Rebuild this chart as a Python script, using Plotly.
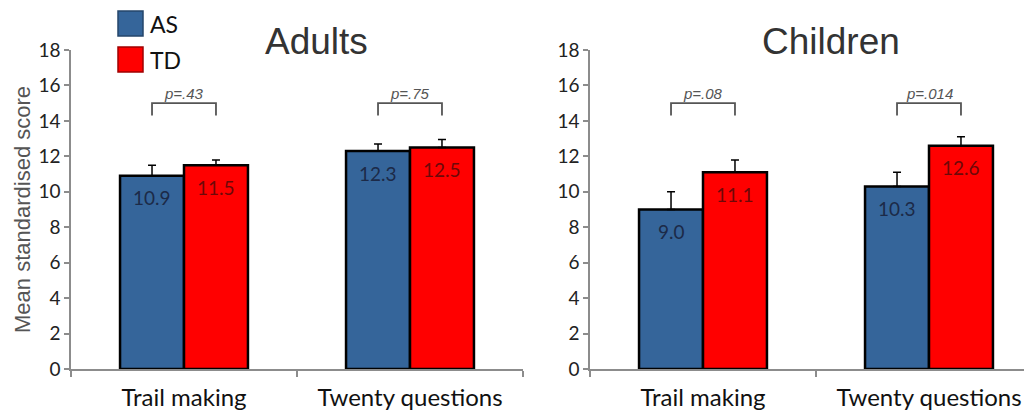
import plotly.graph_objects as go

# ---------------- data ----------------
categories = ["Trail making", "Twenty questions"]
groups = ["AS", "TD"]
adults_as = [10.9, 12.3]
adults_td = [11.5, 12.5]
adults_as_err = [0.6, 0.4]
adults_td_err = [0.3, 0.45]
children_as = [9.0, 10.3]
children_td = [11.1, 12.6]
children_as_err = [1.0, 0.8]
children_td_err = [0.7, 0.5]
adults_p = ["p=.43", "p=.75"]
children_p = ["p=.08", "p=.014"]
panel_titles = ["Adults", "Children"]
y_ticks = [0, 2, 4, 6, 8, 10, 12, 14, 16, 18]

# ---------------- style ----------------
PAGE_W, PAGE_H = 1032, 412
OFF = 8  # browser body margin
W, H = PAGE_W - OFF, PAGE_H - OFF
BLUE = "#35659a"
RED = "#ff0000"
BLUE_TXT = "#1c2a48"
RED_TXT = "#6e0808"
AXIS = "#8c8c8c"
BARGAP = 0.434


def px_x(p):
    return (p - OFF) / W


def px_y(p):
    return 1 - (p - OFF) / H


fig = go.Figure()

panels = [
    dict(as_v=adults_as, td_v=adults_td, as_e=adults_as_err, td_e=adults_td_err,
         p=adults_p, xa="x", ya="y"),
    dict(as_v=children_as, td_v=children_td, as_e=children_as_err, td_e=children_td_err,
         p=children_p, xa="x2", ya="y2"),
]

annotations = []
shapes = []
off = (1 - BARGAP) / 4

for pan in panels:
    for name, vals, errs, col, tcol in [
        ("AS", pan["as_v"], pan["as_e"], BLUE, BLUE_TXT),
        ("TD", pan["td_v"], pan["td_e"], RED, RED_TXT),
    ]:
        fig.add_trace(go.Bar(
            x=categories, y=vals, name=name, xaxis=pan["xa"], yaxis=pan["ya"],
            marker=dict(color=col, line=dict(color="black", width=2.5)),
            error_y=dict(type="data", symmetric=False, array=errs,
                         arrayminus=[0] * len(errs), color="black",
                         thickness=1.5, width=4),
            showlegend=False, hoverinfo="skip",
        ))
        sign = -1 if name == "AS" else 1
        for i, v in enumerate(vals):
            annotations.append(dict(
                x=i + sign * off, y=v, xref=pan["xa"], yref=pan["ya"],
                text=f"{v:.1f}", showarrow=False, yshift=-22,
                font=dict(family="Lato", size=19, color=tcol)))
    # p-value brackets
    for i, ptxt in enumerate(pan["p"]):
        x0, x1 = i - off, i + off
        shapes.append(dict(
            type="path", xref=pan["xa"], yref=pan["ya"],
            path=f"M {x0} 14.3 L {x0} 15.0 L {x1} 15.0 L {x1} 14.3",
            line=dict(color="#555555", width=1.8)))
        annotations.append(dict(
            x=i, y=15.0, xref=pan["xa"], yref=pan["ya"], text=f"<i>{ptxt}</i>",
            showarrow=False, yshift=10,
            font=dict(family="Liberation Sans", size=15, color="#555555")))

# panel titles
for t, cx in zip(panel_titles, [316, 831]):
    annotations.append(dict(
        x=px_x(cx), y=px_y(42), xref="paper", yref="paper", text=t,
        showarrow=False, xanchor="center", yanchor="middle",
        font=dict(family="Liberation Sans", size=37, color="#333333")))

# y axis title
annotations.append(dict(
    x=px_x(22), y=px_y(210), xref="paper", yref="paper",
    text="Mean standardised score", textangle=-90, showarrow=False,
    xanchor="center", yanchor="middle",
    font=dict(family="Liberation Sans", size=22, color="#555555")))

# legend (drawn)
for g, col, line, top in [(groups[0], BLUE, "#24466b", 11), (groups[1], RED, "#a00000", 47)]:
    shapes.append(dict(type="rect", xref="paper", yref="paper",
                       x0=px_x(118), x1=px_x(143), y0=px_y(top + 25), y1=px_y(top),
                       fillcolor=col, line=dict(color=line, width=1.5)))
    annotations.append(dict(
        x=px_x(148), y=px_y(top + 12.5), xref="paper", yref="paper", text=g,
        showarrow=False, xanchor="left", yanchor="middle",
        font=dict(family="Lato", size=23, color="#111111")))

yaxis_common = dict(
    range=[0, 18], tickvals=y_ticks, showgrid=False, zeroline=False,
    showline=True, linecolor=AXIS, linewidth=1.5, ticks="outside",
    ticklen=5, tickcolor=AXIS, tickwidth=1.5, automargin=False,
    tickfont=dict(family="Lato", size=19, color="#222222"),
    domain=[px_y(369), px_y(50)],
)
xaxis_common = dict(
    showgrid=False, zeroline=False, showline=True, linecolor=AXIS,
    linewidth=1.5, ticks="outside", tickson="boundaries", ticklen=6,
    tickcolor=AXIS, tickwidth=1.5, ticklabelstandoff=6, automargin=False,
    tickfont=dict(family="Lato", size=24, color="#111111"),
)

cat_px = 226.0
right_vis = (PAGE_W - 590) / cat_px

fig.update_layout(
    width=W, height=H, margin=dict(l=0, r=0, t=0, b=0, autoexpand=False),
    paper_bgcolor="white", plot_bgcolor="white",
    barmode="group", bargap=BARGAP, bargroupgap=0,
    xaxis=dict(xaxis_common, domain=[px_x(71), px_x(523)], anchor="y",
               range=[-0.5, 1.5]),
    yaxis=dict(yaxis_common, anchor="x"),
    xaxis2=dict(xaxis_common, domain=[px_x(590), 1], anchor="y2",
                range=[-0.5, -0.5 + right_vis]),
    yaxis2=dict(yaxis_common, anchor="x2"),
    annotations=annotations, shapes=shapes,
    showlegend=False,
)

fig.write_html("out.html")
